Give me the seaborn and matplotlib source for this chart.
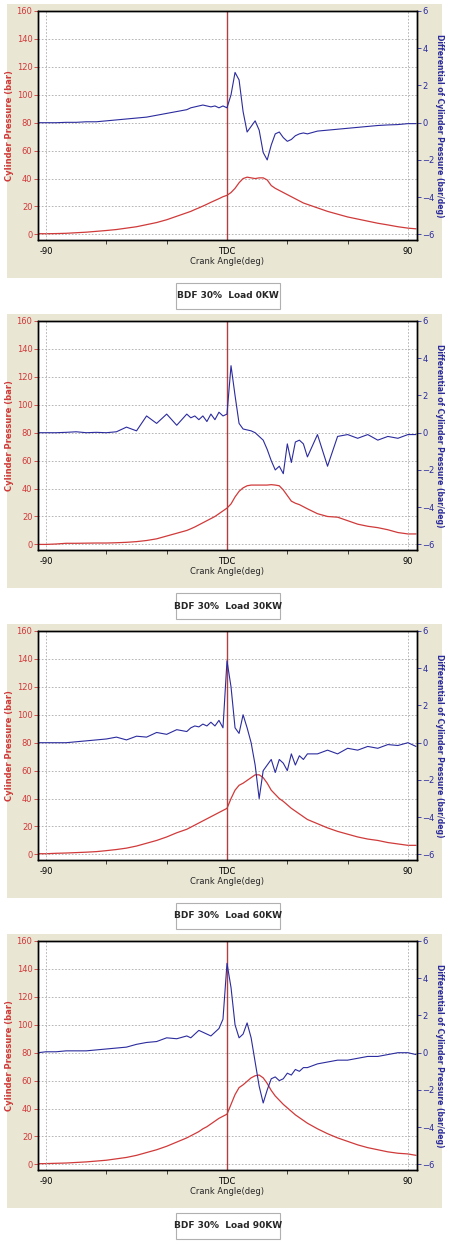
import numpy as np
import pandas as pd
import matplotlib
matplotlib.use("Agg")
import matplotlib.pyplot as plt
from matplotlib.patches import Rectangle
import seaborn as sns

angle = ([-94, -90, -85, -80, -75, -70, -65, -60, -55, -50, -45, -40, -35, -30, -25]
         + list(range(-20, 0, 2)) + list(range(0, 42, 2))
         + [45, 50, 55, 60, 65, 70, 75, 80, 85, 90, 94])

titles = ["BDF 30%  Load 0KW", "BDF 30%  Load 30KW", "BDF 30%  Load 60KW", "BDF 30%  Load 90KW"]

p_0kw = [0.5,0.5,0.6,0.8,1.2,1.6,2.2,2.8,3.5,4.5,5.5,7,8.5,10.5,13,
         15.5,16.5,17.8,19,20.3,21.6,23,24.3,25.6,27,
         28,30,33,37,40,41,40.5,40,40.5,40.5,39,35,33,31.5,30,28.5,27,25.5,24,22.5,21.5,
         19,16.5,14.5,12.5,11,9.5,8,6.8,5.5,4.5,4]
d_0kw = [0,0,0,0.02,0.02,0.05,0.05,0.1,0.15,0.2,0.25,0.3,0.4,0.5,0.6,
         0.7,0.8,0.85,0.9,0.95,0.9,0.85,0.9,0.8,0.9,
         0.8,1.5,2.7,2.3,0.6,-0.5,-0.2,0.1,-0.4,-1.6,-2.0,-1.2,-0.6,-0.5,-0.8,-1.0,-0.9,-0.7,-0.6,-0.55,-0.6,
         -0.45,-0.4,-0.35,-0.3,-0.25,-0.2,-0.15,-0.12,-0.1,-0.05,-0.05]

p_30kw = [0,0,0.3,0.8,0.8,0.9,1,1,1.2,1.5,2,2.8,4,6,8,
          10,11.2,12.5,14,15.5,17,18.5,20,22,24,
          26,29,34,38,40.5,42,42.5,42.5,42.5,42.5,42.5,42.8,42.5,42,39,35,31,29.5,28.5,27,25.5,
          22,20,19.5,17,14.5,13,12,10.5,8.5,7.5,7.5]
d_30kw = [0,0,0,0.02,0.05,0.0,0.02,0.0,0.05,0.3,0.1,0.9,0.5,1.0,0.4,
          1.0,0.8,0.9,0.7,0.9,0.6,1.0,0.7,1.1,0.9,
          1.0,3.6,2.0,0.5,0.2,0.15,0.1,0.0,-0.2,-0.4,-0.9,-1.5,-2.0,-1.8,-2.2,-0.6,-1.6,-0.5,-0.4,-0.6,-1.3,
          -0.1,-1.8,-0.2,-0.1,-0.3,-0.1,-0.4,-0.2,-0.3,-0.1,-0.1]

p_60kw = [0.5,0.5,0.8,1,1.3,1.6,2,2.7,3.5,4.5,6,8,10,12.5,15.5,
          18,19.5,21,22.5,24,25.5,27,28.5,30,31.5,
          33,40,46,49.5,51,53,55,57,57,55,51,46,43,40,38,35.5,33,31,29,27,25,
          22,19,16.5,14.5,12.5,11,10,8.5,7.5,6.5,6.5]
d_60kw = [0,0,0,0,0.05,0.1,0.15,0.2,0.3,0.15,0.35,0.3,0.55,0.45,0.7,
          0.6,0.8,0.9,0.85,1.0,0.9,1.1,0.9,1.2,0.8,
          4.4,3.0,0.8,0.5,1.5,0.8,0.0,-1.2,-3.0,-1.5,-1.2,-0.9,-1.6,-0.9,-1.1,-1.5,-0.6,-1.2,-0.7,-0.9,-0.6,
          -0.6,-0.4,-0.6,-0.3,-0.4,-0.2,-0.3,-0.1,-0.15,0.0,-0.2]

p_90kw = [0.5,0.6,0.8,1,1.4,1.8,2.4,3,4,5,6.5,8.5,10.5,13,16,
          19,20.5,22,23.5,25.5,27,29,31,33,34.5,
          36,43,50,55,57,59.5,62,63.5,64,62,58,53,49,46,43,40.5,38,35.5,33.5,31.5,29.5,
          25.5,22,19,16.5,14,12,10.5,9,8,7.5,6.5]
d_90kw = [0,0.05,0.05,0.1,0.1,0.1,0.15,0.2,0.25,0.3,0.45,0.55,0.6,0.8,0.75,
          0.9,0.8,1.0,1.2,1.1,1.0,0.9,1.1,1.3,1.8,
          4.8,3.5,1.5,0.8,1.0,1.6,0.8,-0.5,-1.8,-2.7,-2.0,-1.4,-1.3,-1.5,-1.4,-1.1,-1.2,-0.9,-1.0,-0.8,-0.8,
          -0.6,-0.5,-0.4,-0.4,-0.3,-0.2,-0.2,-0.1,0.0,0.0,-0.1]

pressures = [p_0kw, p_30kw, p_60kw, p_90kw]
diffs = [d_0kw, d_30kw, d_60kw, d_90kw]

sns.set_style("white")
plt.rcParams['font.family'] = ['DejaVu Sans']
RED = "#d03a3a"
BLUE = "#2b2b9e"
W, H = 450, 1246
fig = plt.figure(figsize=(W / 100, H / 100), dpi=100)

for i in range(4):
    off = i * 310
    fig.patches.append(Rectangle((7 / W, 1 - (off + 278) / H), 435 / W, 274 / H,
                                 transform=fig.transFigure, facecolor="#e9e6d4",
                                 edgecolor="none", zorder=0))
    fig.patches.append(Rectangle((176 / W, 1 - (off + 309) / H), 104 / W, 26 / H,
                                 transform=fig.transFigure, facecolor="white",
                                 edgecolor="#b0b0b0", lw=0.8, zorder=1))
    fig.text(228 / W, 1 - (off + 296) / H, titles[i], ha="center", va="center",
             fontsize=6.5, fontweight="bold", family="Liberation Sans Narrow")

    ax = fig.add_axes([38 / W, 1 - (off + 240) / H, 379 / W, 229 / H])
    ax.set_zorder(2)
    df = pd.DataFrame({"angle": angle, "p": pressures[i], "d": diffs[i]})
    sns.lineplot(data=df, x="angle", y="p", ax=ax, color=RED, lw=0.9)
    ax.set_xlim(-94, 94.5)
    ax.set_ylim(-4, 160)
    ax.set_yticks(range(0, 161, 20))
    ax.set_xticks([-90, 0, 90])
    ax.set_xticklabels(["-90", "TDC", "90"])
    ax.set_xticks([-60, -30, 30, 60], minor=True)
    ax.tick_params(axis="y", colors=RED, labelsize=6, length=3, width=0.6, direction="out", pad=1)
    ax.tick_params(axis="x", labelsize=6, length=3, width=0.6, direction="out", pad=2, colors="black")
    ax.tick_params(axis="x", which="minor", length=3, width=0.6, bottom=True)
    ax.grid(True, axis="y", ls=(0, (2, 2)), color="#aaaaaa", lw=0.6)
    for xv in (-90, 90):
        ax.axvline(xv, ls=(0, (2, 2)), color="#aaaaaa", lw=0.6)
    ax.axvline(0, color="#b04040", lw=1.0)
    ax.set_ylabel("Cylinder Pressure (bar)", color=RED, fontsize=6, fontweight="bold", labelpad=2)
    ax.set_xlabel("Crank Angle(deg)", fontsize=6, labelpad=1)
    for s in ax.spines.values():
        s.set_color("black")
        s.set_linewidth(1.0)

    ax2 = ax.twinx()
    sns.lineplot(data=df, x="angle", y="d", ax=ax2, color=BLUE, lw=0.8)
    ax2.set_ylim(-6 - 4 * 12 / 160, 6)
    ax2.set_yticks(range(-6, 7, 2))
    ax2.tick_params(axis="y", colors=BLUE, labelsize=6, length=3, width=0.6, pad=1)
    ax2.set_ylabel("Differential of Cylinder Pressure (bar/deg)", color=BLUE, fontsize=5.5,
                   fontweight="bold", rotation=270, va="center", ha="center")
    ax2.yaxis.set_label_coords(1.06, 0.5)
    for s in ax2.spines.values():
        s.set_color("black")
        s.set_linewidth(1.0)
    ax2.set_xlabel("")

fig.savefig("out.png", dpi=100, facecolor="white")
